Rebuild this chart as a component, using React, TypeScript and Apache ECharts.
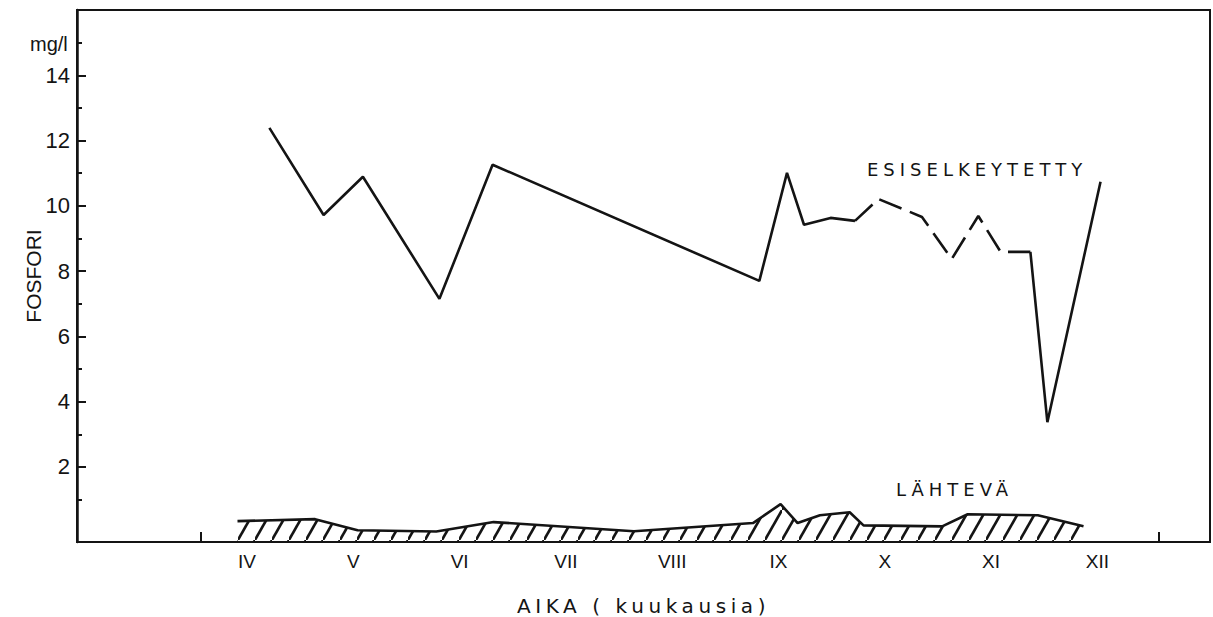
import React, { useEffect, useRef } from "react";
import * as echarts from "echarts";

// Month label positions (value axis in month units) and Roman numerals
const monthTicks = [4, 5, 6, 7, 8, 9, 10, 11, 12];
const monthLabels = ["IV", "V", "VI", "VII", "VIII", "IX", "X", "XI", "XII"];
const xEdgeTicks = [3.56, 12.58];
const yLabelTicks = [2, 4, 6, 8, 10, 12, 14];
const yMinorTicks = [1, 3, 5, 7, 9, 11, 13, 15];

// ESISELKEYTETTY (pre-settled) phosphorus, mg/l
const esiX = [4.21, 4.72, 5.09, 5.81, 6.31, 8.82, 9.08, 9.24, 9.49, 9.72, 9.94, 10.35, 10.63, 10.88, 11.09, 11.37, 11.53, 12.03];
const esiY = [12.39, 9.72, 10.89, 7.15, 11.26, 7.7, 11.01, 9.42, 9.63, 9.54, 10.21, 9.66, 8.37, 9.69, 8.59, 8.59, 3.37, 10.74];
const esiDashStart = 9;
const esiDashEnd = 15;

// LÄHTEVÄ (outgoing) phosphorus, mg/l
const lahX = [3.91, 4.64, 5.04, 5.78, 6.32, 7.64, 8.76, 9.02, 9.18, 9.39, 9.67, 9.8, 10.54, 10.78, 11.44, 11.87];
const lahY = [0.34, 0.4, 0.06, 0.02, 0.31, 0.03, 0.28, 0.86, 0.28, 0.52, 0.61, 0.21, 0.18, 0.55, 0.52, 0.18];

const INK = "#141414";
const FONT = "'Liberation Sans', Arial, sans-serif";
const SPACED = "DejaVu Sans";

function pairs(xs: number[], ys: number[], a = 0, b = xs.length - 1) {
  const out: number[][] = [];
  for (let i = a; i <= b; i++) out.push([xs[i], ys[i]]);
  return out;
}

function makeHatch(): HTMLCanvasElement {
  const c = document.createElement("canvas");
  const w = 17;
  const h = 30;
  c.width = w;
  c.height = h;
  const ctx = c.getContext("2d")!;
  ctx.strokeStyle = INK;
  ctx.lineWidth = 2.6;
  ctx.beginPath();
  ctx.moveTo(-w * 0.5, h * 1.5);
  ctx.lineTo(w * 1.5, -h * 0.5);
  ctx.stroke();
  return c;
}

const css = `
.fosfori-chart text[style*="DejaVu"][style*="18px"] { letter-spacing: 5px; }
.fosfori-chart text[style*="DejaVu"][style*="20px"] { letter-spacing: 4.6px; }
`;

export default function App() {
  const ref = useRef<HTMLDivElement>(null);

  useEffect(() => {
    if (!ref.current) return;
    const chart = echarts.init(ref.current, undefined, { renderer: "svg" });
    const roman: Record<number, string> = {};
    monthTicks.forEach((m, i) => (roman[m] = monthLabels[i]));

    const lineStyle = { color: INK, width: 2.6 };

    chart.setOption({
      animation: false,
      backgroundColor: "#ffffff",
      grid: {
        left: 77,
        right: 3,
        top: 10,
        bottom: 75,
        containLabel: false,
        outerBoundsMode: "none",
        show: true,
        borderColor: INK,
        borderWidth: 2,
        backgroundColor: "transparent",
      },
      xAxis: {
        type: "value",
        min: 2.4,
        max: 13.06,
        name: "AIKA ( kuukausia)",
        nameLocation: "middle",
        nameGap: 54,
        nameMoveOverlap: false,
        nameTextStyle: { fontSize: 20, color: INK, fontFamily: SPACED },
        axisLine: { show: true, onZero: false, lineStyle: { color: INK, width: 2 } },
        axisTick: {
          show: true,
          inside: true,
          length: 10,
          customValues: xEdgeTicks,
          lineStyle: { color: INK, width: 2 },
        },
        axisLabel: {
          show: true,
          customValues: monthTicks,
          formatter: (v: number) => roman[Math.round(v)] ?? "",
          fontSize: 19,
          color: INK,
          fontFamily: FONT,
          margin: 10,
        },
        splitLine: { show: false },
      },
      yAxis: [
        {
          type: "value",
          min: -0.3,
          max: 16,
          name: "FOSFORI",
          nameLocation: "middle",
          nameRotate: 90,
          nameGap: 33,
          nameMoveOverlap: false,
          nameTextStyle: { fontSize: 21, color: INK, fontFamily: FONT },
          axisLine: { show: true, onZero: false, lineStyle: { color: INK, width: 2.5 } },
          axisTick: {
            show: true,
            inside: true,
            length: 9,
            customValues: yLabelTicks,
            lineStyle: { color: INK, width: 2 },
          },
          axisLabel: {
            show: true,
            customValues: yLabelTicks,
            fontSize: 22,
            color: INK,
            fontFamily: FONT,
            margin: 7,
          },
          splitLine: { show: false },
        },
        {
          type: "value",
          position: "left",
          min: -0.3,
          max: 16,
          axisLine: { show: false, onZero: false },
          axisTick: {
            show: true,
            inside: true,
            length: 5,
            customValues: yMinorTicks,
            lineStyle: { color: INK, width: 2 },
          },
          axisLabel: { show: false },
          splitLine: { show: false },
        },
      ],
      graphic: [
        {
          type: "text",
          left: 30,
          top: 34,
          style: { text: "mg/l", fontSize: 20, fill: INK, fontFamily: FONT },
        },
        {
          type: "text",
          left: 867,
          top: 160,
          style: { text: "ESISELKEYTETTY", fontSize: 18, fill: INK, fontFamily: SPACED },
        },
        {
          type: "text",
          left: 896,
          top: 480,
          style: { text: "LÄHTEVÄ", fontSize: 18, fill: INK, fontFamily: SPACED },
        },
      ],
      series: [
        {
          name: "ESISELKEYTETTY",
          type: "line",
          data: pairs(esiX, esiY, 0, esiDashStart),
          symbol: "none",
          lineStyle,
        },
        {
          name: "ESISELKEYTETTY ",
          type: "line",
          data: pairs(esiX, esiY, esiDashStart, esiDashEnd),
          symbol: "none",
          lineStyle: { ...lineStyle, type: [24, 9] },
        },
        {
          name: "ESISELKEYTETTY  ",
          type: "line",
          data: pairs(esiX, esiY, esiDashEnd, esiX.length - 1),
          symbol: "none",
          lineStyle,
        },
        {
          name: "LÄHTEVÄ",
          type: "line",
          data: pairs(lahX, lahY),
          symbol: "none",
          lineStyle,
          areaStyle: {
            origin: "start",
            color: { image: makeHatch(), repeat: "repeat" },
            opacity: 1,
          },
        },
      ],
    });

    return () => chart.dispose();
  }, []);

  return (
    <>
      <style>{css}</style>
      <div
        ref={ref}
        className="fosfori-chart"
        style={{ position: "fixed", left: 0, top: 0, width: 1213, height: 617, background: "#fff" }}
      />
    </>
  );
}
